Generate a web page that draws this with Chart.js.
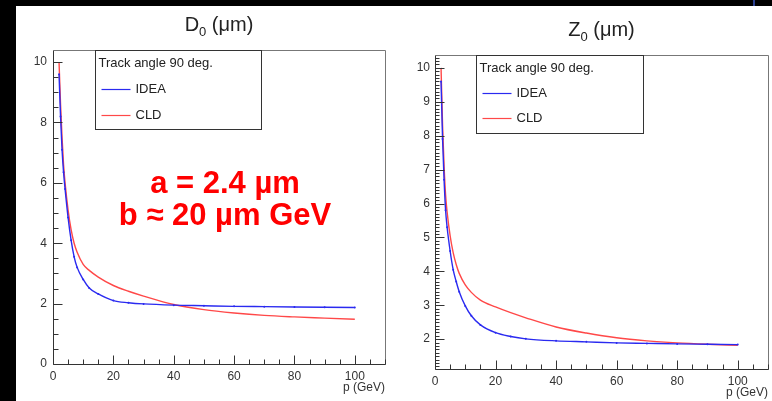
<!DOCTYPE html>
<html>
<head>
<meta charset="utf-8">
<script src="https://cdn.jsdelivr.net/npm/chart.js@4.4.1/dist/chart.umd.min.js"></script>
<style>
  html, body { margin: 0; padding: 0; background: #000; }
  #page { position: relative; width: 772px; height: 401px; overflow: hidden; background: #000; }
  #sheet { position: absolute; left: 16px; top: 6px; right: 0; bottom: 0; background: #fff; }
  #mark { position: absolute; left: 753px; top: 0; width: 2px; height: 6px; background: #2a3f8f; }
  canvas { position: absolute; top: 6px; }
  #d0 { left: 16px; }
  #z0 { left: 400px; }
</style>
</head>
<body>
<div id="page">
  <div id="sheet"></div>
  <div id="mark"></div>
  <canvas id="d0" width="384" height="395"></canvas>
  <canvas id="z0" width="372" height="395"></canvas>
</div>
<script>
const pGrid = [2, 2.5, 3, 3.5, 4, 5, 6, 7, 8, 10, 12, 15, 20, 25, 30, 40, 50, 60, 70, 80, 90, 100];

// D0 resolution (um)
const d0Idea = [9.6, 8.2, 7.1, 6.35, 5.8, 4.85, 4.1, 3.55, 3.2, 2.8, 2.52, 2.32, 2.1, 2.03, 1.99, 1.95, 1.93, 1.91, 1.9, 1.89, 1.88, 1.87];
const d0Cld  = [10.0, 8.6, 7.5, 6.6, 6.0, 5.1, 4.45, 4.0, 3.7, 3.3, 3.1, 2.88, 2.6, 2.41, 2.25, 1.97, 1.8, 1.69, 1.61, 1.56, 1.52, 1.48];

// Z0 resolution (um)
const z0Idea = [9.6, 7.9, 6.7, 5.8, 5.3, 4.6, 4.05, 3.7, 3.4, 2.98, 2.69, 2.42, 2.19, 2.08, 2.01, 1.95, 1.92, 1.89, 1.875, 1.86, 1.85, 1.84];
const z0Cld  = [10.0, 8.3, 7.1, 6.25, 5.75, 5.05, 4.55, 4.2, 3.94, 3.6, 3.38, 3.15, 2.95, 2.78, 2.63, 2.36, 2.18, 2.04, 1.95, 1.89, 1.85, 1.82];

const xTicks = [0, 20, 40, 60, 80, 100];
const yTicksD0 = [0, 2, 4, 6, 8, 10];
const yTicksZ0 = [2, 3, 4, 5, 6, 7, 8, 9, 10];

const legendHeader = 'Track angle 90 deg.';
const seriesNames = ['IDEA', 'CLD'];
const seriesColors = ['#2a2af0', '#ff4848'];

Chart.defaults.font.family = "'Liberation Sans', Arial, sans-serif";
Chart.defaults.color = '#333';

const toXY = (vals) => pGrid.map((p, i) => ({ x: p, y: vals[i] }));

// ROOT-like frame, inner ticks, title, legend box and axis title
function rootStyle(st) {
  return {
    id: 'rootStyle',
    afterDraw(chart) {
      const ctx = chart.ctx;
      const a = chart.chartArea;
      const xs = chart.scales.x, ys = chart.scales.y;
      const L = Math.round(a.left) + 0.5, B = Math.round(a.bottom) + 0.5;
      const T = Math.round(a.top) + 0.5, R = Math.round(a.right) + 0.5;
      ctx.save();

      // frame
      ctx.lineWidth = 1;
      ctx.strokeStyle = '#777';
      ctx.beginPath();
      ctx.moveTo(L, T); ctx.lineTo(R, T); ctx.lineTo(R, B);
      ctx.stroke();
      ctx.strokeStyle = '#333';
      ctx.beginPath();
      ctx.moveTo(L, T); ctx.lineTo(L, B); ctx.lineTo(R, B);
      ctx.stroke();

      // ticks pointing inside the frame
      ctx.beginPath();
      const nx = Math.floor(110 / st.xMinor);
      for (let i = 0; i <= nx; i++) {
        const px = Math.round(xs.getPixelForValue(i * st.xMinor)) + 0.5;
        const len = (i % st.xRatio === 0) ? 9 : 5;
        ctx.moveTo(px, B);
        ctx.lineTo(px, B - len);
      }
      const i0 = Math.ceil(ys.min / st.yMinor - 1e-6);
      const i1 = Math.floor(ys.max / st.yMinor + 1e-6);
      for (let i = i0; i <= i1; i++) {
        const py = Math.round(ys.getPixelForValue(i * st.yMinor)) + 0.5;
        const len = (i % st.yRatio === 0) ? 9 : st.yMinorLen;
        ctx.moveTo(L, py);
        ctx.lineTo(L + len, py);
      }
      ctx.stroke();

      // title with subscript
      ctx.fillStyle = '#222';
      ctx.textBaseline = 'alphabetic';
      ctx.textAlign = 'left';
      const big = "20px 'Liberation Sans', Arial, sans-serif";
      const small = "13px 'Liberation Sans', Arial, sans-serif";
      ctx.font = big;
      const w1 = ctx.measureText(st.titleMain).width;
      const w3 = ctx.measureText(st.titleRest).width;
      ctx.font = small;
      const w2 = ctx.measureText(st.titleSub).width;
      const tx = (a.left + a.right) / 2 - (w1 + w2 + w3) / 2;
      const ty = a.top - 19;
      ctx.font = big;
      ctx.fillText(st.titleMain, tx, ty);
      ctx.font = small;
      ctx.fillText(st.titleSub, tx + w1, ty + 5);
      ctx.font = big;
      ctx.fillText(st.titleRest, tx + w1 + w2, ty);

      // legend box
      const bx = Math.round(a.left + st.legX) + 0.5, by = T;
      ctx.fillStyle = '#fff';
      ctx.fillRect(bx, by, st.legW, st.legH);
      ctx.strokeStyle = '#333';
      ctx.lineWidth = 1;
      ctx.strokeRect(bx, by, st.legW, st.legH);
      ctx.font = "13px 'Liberation Sans', Arial, sans-serif";
      ctx.fillStyle = '#222';
      ctx.textBaseline = 'middle';
      ctx.fillText(legendHeader, bx + 3, by + 13);
      chart.data.datasets.forEach((ds, i) => {
        const ly = by + st.legRows[i];
        ctx.strokeStyle = ds.borderColor;
        ctx.lineWidth = 1.2;
        ctx.beginPath();
        ctx.moveTo(bx + 6, ly);
        ctx.lineTo(bx + 35, ly);
        ctx.stroke();
        ctx.fillStyle = '#222';
        ctx.fillText(ds.label, bx + 40, ly);
      });

      // x-axis title
      ctx.font = "12px 'Liberation Sans', Arial, sans-serif";
      ctx.textAlign = 'right';
      ctx.fillStyle = '#333';
      ctx.fillText('p (GeV)', a.right, a.bottom + 24);

      // annotation
      if (st.note) {
        ctx.font = "bold 31px 'Liberation Sans', Arial, sans-serif";
        ctx.fillStyle = '#ff0000';
        ctx.textAlign = 'center';
        st.note.forEach((line, i) => ctx.fillText(line, a.left + 172, a.top + 134 + i * 32));
      }
      ctx.restore();
    }
  };
}

function makeChart(id, ideaVals, cldVals, yMin, yMax, yTicks, layout, style) {
  const datasets = [ideaVals, cldVals].map((vals, i) => ({
    label: seriesNames[i],
    data: toXY(vals),
    borderColor: seriesColors[i],
    backgroundColor: seriesColors[i],
    borderWidth: 1.4,
    pointRadius: i === 0 ? 1 : 0,
    pointBorderWidth: 0,
    cubicInterpolationMode: 'monotone',
    fill: false
  }));
  return new Chart(document.getElementById(id), {
    type: 'line',
    data: { datasets },
    plugins: [rootStyle(style)],
    options: {
      responsive: false,
      animation: false,
      devicePixelRatio: 1,
      layout: { padding: { top: layout.top, right: layout.right, left: 0, bottom: 0 } },
      plugins: {
        legend: { display: false },
        tooltip: { enabled: false }
      },
      scales: {
        x: {
          type: 'linear',
          min: 0,
          max: 110,
          grid: { display: false, drawTicks: false },
          border: { display: false },
          afterBuildTicks: s => { s.ticks = xTicks.map(v => ({ value: v })); },
          afterFit: s => { s.height = layout.bottom; },
          ticks: { padding: layout.xPad, maxRotation: 0, font: { size: 12 }, color: '#333' }
        },
        y: {
          type: 'linear',
          min: yMin,
          max: yMax,
          grid: { display: false, drawTicks: false },
          border: { display: false },
          afterBuildTicks: s => { s.ticks = yTicks.map(v => ({ value: v })); },
          afterFit: s => { s.width = layout.left; },
          ticks: { padding: layout.yPad, font: { size: 12 }, color: '#333' }
        }
      }
    }
  });
}

makeChart('d0', d0Idea, d0Cld, 0, 10.4, yTicksD0,
  { top: 44, right: 15, bottom: 37, left: 37, xPad: 5, yPad: 6 },
  { xMinor: 5, xRatio: 4, yMinor: 0.5, yRatio: 4, yMinorLen: 5,
    titleMain: 'D', titleSub: '0', titleRest: ' (\u03bcm)',
    legX: 42, legW: 166, legH: 79, legRows: [39, 65],
    note: ['a = 2.4 \u00b5m', 'b \u2248 20 \u00b5m GeV'] });

makeChart('z0', z0Idea, z0Cld, 1.12, 10.38, yTicksZ0,
  { top: 49, right: 4, bottom: 32, left: 35, xPad: 5, yPad: 5 },
  { xMinor: 5, xRatio: 4, yMinor: 0.1, yRatio: 10, yMinorLen: 4,
    titleMain: 'Z', titleSub: '0', titleRest: ' (\u03bcm)',
    legX: 41, legW: 167, legH: 78, legRows: [38, 63],
    note: null });
</script>
</body>
</html>
